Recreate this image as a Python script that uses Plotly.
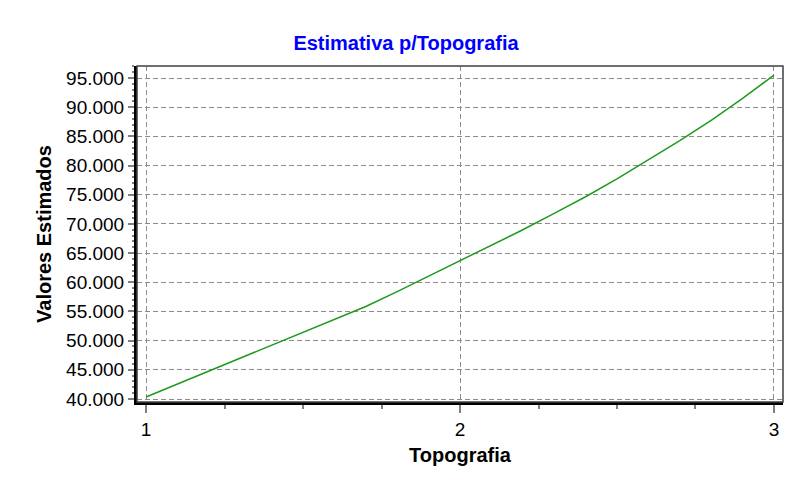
import plotly.graph_objects as go

# Data
topografia = [1.0, 1.1, 1.2, 1.3, 1.4, 1.5, 1.6, 1.7, 1.8, 1.9, 2.0,
              2.1, 2.2, 2.3, 2.4, 2.5, 2.6, 2.7, 2.8, 2.9, 3.0]
valores_estimados = [40350, 42560, 44780, 47050, 49300, 51450, 53600, 55850,
                     58400, 61050, 63650, 66250, 69000, 71800, 74650, 77700,
                     80950, 84250, 87750, 91500, 95500]
x_tick_vals = [1, 2, 3]
y_tick_vals = [40000, 45000, 50000, 55000, 60000, 65000, 70000, 75000,
               80000, 85000, 90000, 95000]

FONT = "Liberation Sans, Arial, sans-serif"

# The page body adds an 8px offset; the figure is sized to compensate
# (and kept short enough that no scrollbar appears).
W, H = 799, 468
L, T, R, B = 129, 58, 24, 74
PW, PH = W - L - R, H - T - B

fig = go.Figure()
fig.add_trace(go.Scatter(
    x=topografia, y=valores_estimados, mode="lines",
    line=dict(color="#1f9a1f", width=1.5), showlegend=False,
))

fig.update_layout(
    width=W, height=H,
    margin=dict(l=L, r=R, t=T, b=B),
    paper_bgcolor="white", plot_bgcolor="white",
    separators=",.",
    font=dict(family=FONT, color="#000000"),
    title=dict(text="<b>Estimativa p/Topografia</b>", x=398 / W, xref="container",
               xanchor="center", y=1 - 35 / H, yref="container", yanchor="middle",
               font=dict(family=FONT, size=20, color="#0000ff")),
)

fig.update_xaxes(
    range=[0.9713, 3.0287], tickvals=x_tick_vals, ticktext=[str(v) for v in x_tick_vals],
    showline=True, linecolor="black", linewidth=3,
    ticks="outside", ticklen=8, tickcolor="#808080", tickwidth=1.5,
    minor=dict(dtick=0.25, tick0=1, ticks="outside", ticklen=4, tickcolor="#808080",
               showgrid=False),
    showgrid=True, gridcolor="#8c8c8c", gridwidth=1.2, griddash="5px,3px",
    zeroline=False,
    tickfont=dict(family=FONT, size=19, color="#000000"),
    title=dict(text="<b>Topografia</b>", font=dict(family=FONT, size=20), standoff=10),
)
fig.update_yaxes(
    range=[39486, 97056], tickvals=y_tick_vals, tickformat=",d",
    showline=True, linecolor="black", linewidth=3,
    ticks="outside", ticklen=6, tickcolor="#808080", tickwidth=1.5,
    minor=dict(dtick=1000, tick0=40000, ticks="outside", ticklen=2, tickcolor="#808080",
               showgrid=False),
    showgrid=True, gridcolor="#8c8c8c", gridwidth=1.2, griddash="5px,3px",
    zeroline=False,
    tickfont=dict(family=FONT, size=19, color="#000000"),
    title=dict(text="<b>Valores Estimados</b>", font=dict(family=FONT, size=20), standoff=10),
)

# Thin top/right frame of the plot area
fig.add_shape(type="rect", xref="paper", yref="paper", x0=0, x1=1, y0=0, y1=1,
              line=dict(color="#404040", width=1.5), layer="above")
# Window border line at far right
xr = (796 - L) / PW
fig.add_shape(type="rect", xref="paper", yref="paper",
              x0=xr, x1=xr + 2 / PW, y0=(H - B + 3) / PH, y1=-B / PH,
              fillcolor="#c4c4c4", line=dict(width=0), layer="above")

fig.write_html("out.html")
